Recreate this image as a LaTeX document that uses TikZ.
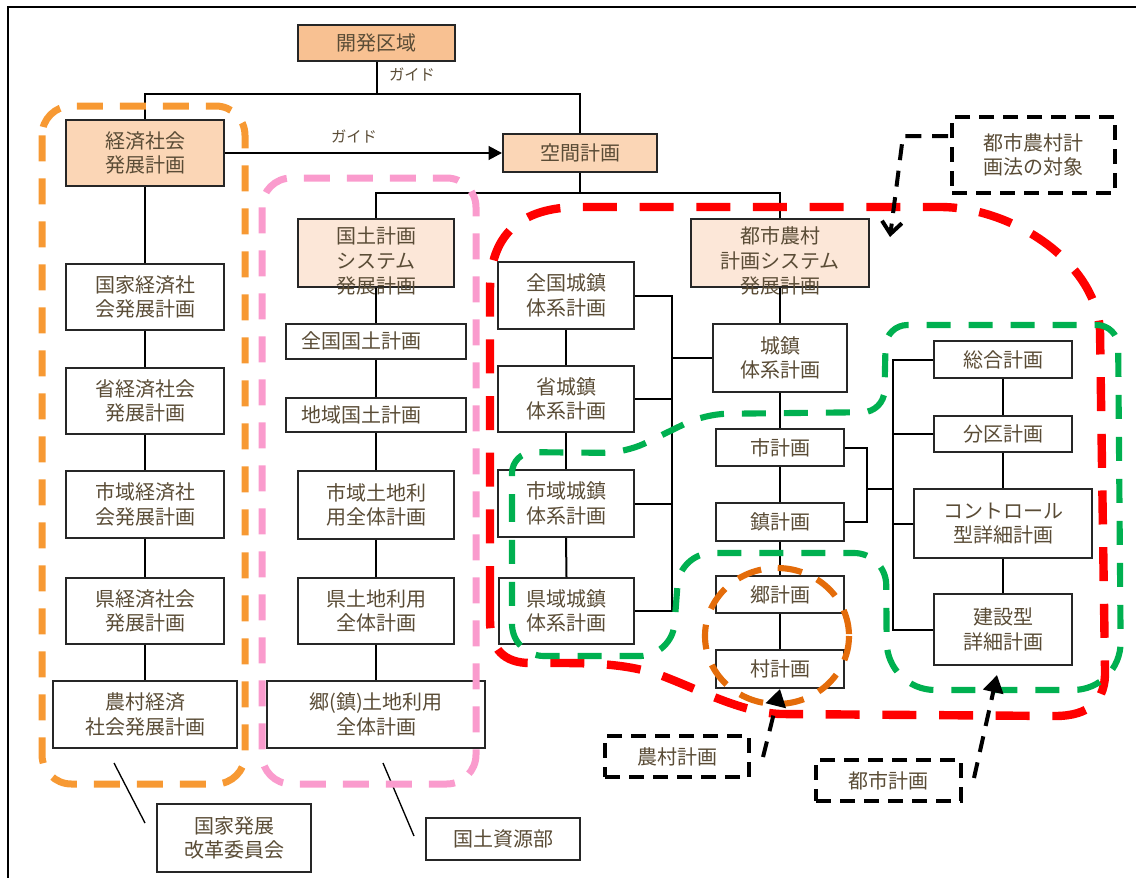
\documentclass[tikz,border=0pt]{standalone}
\usepackage{fontspec}
\setmainfont{Noto Sans CJK JP}
\usetikzlibrary{arrows.meta}
\definecolor{txt}{RGB}{90,76,54}
\definecolor{peachA}{RGB}{248,193,146}
\definecolor{peachB}{RGB}{251,214,182}
\definecolor{peachC}{RGB}{252,231,216}
\definecolor{orgreg}{RGB}{247,153,51}
\definecolor{pinkreg}{RGB}{250,155,205}
\definecolor{redreg}{RGB}{255,0,0}
\definecolor{grnreg}{RGB}{0,176,80}
\definecolor{dorg}{RGB}{228,108,10}
\tikzset{
  box/.style={draw=black!85, line width=1.4pt, fill=white, text=txt, align=center, inner sep=0pt,
    font=\fontsize{15pt}{18.5pt}\selectfont},
  lbl/.style={text=txt, align=center, inner sep=0pt, font=\fontsize{15pt}{18.5pt}\selectfont},
  small/.style={text=txt, inner sep=0pt, font=\fontsize{11.5pt}{14pt}\selectfont},
  conn/.style={line width=1.5pt, draw=black},
  anbox/.style={draw=black, line width=3pt, dash pattern=on 11pt off 7pt},
  anarrow/.style={draw=black, line width=3pt, dash pattern=on 12pt off 8pt},
  regO/.style={draw=orgreg, line width=5.25pt, dash pattern=on 19.5pt off 12.75pt, rounded corners=22pt},
  regP/.style={draw=pinkreg, line width=5.25pt, dash pattern=on 19.5pt off 12.75pt, rounded corners=22pt},
  regR/.style={draw=redreg, line width=6.3pt, dash pattern=on 25.5pt off 17pt},
  regG/.style={draw=grnreg, line width=4.6pt, dash pattern=on 18pt off 13.5pt},
  regD/.style={draw=dorg, line width=4.6pt, dash pattern=on 18.5pt off 12.5pt},
}
% \bx[style]{name}{x1}{y1}{x2}{y2}{text}
\newcommand\bx[7][]{\node[box,#1,minimum width={(#5-#3)*0.75pt},minimum height={(#6-#4)*0.75pt}] (#2) at ({(#3+#5)/2},{(#4+#6)/2}) {#7};}
\begin{document}
\begin{tikzpicture}[x=0.75pt,y=-0.75pt]
\useasboundingbox (0,0) rectangle (1136,878);
\coordinate (fr1) at (8,878);
\coordinate (fr2) at (8,7);
\coordinate (fr3) at (1136,7);
\draw[line width=1.5pt] (fr1) -- (fr2) -- (fr3);

% boxes
\bx[fill=peachA]{kaihatsu}{298}{25}{455}{61}{開発区域}
\bx[fill=peachB]{keizai}{66}{120}{224}{186}{経済社会\\発展計画}
\bx[fill=peachB]{kukan}{503}{134}{657}{172}{空間計画}
\bx{k1}{66}{264}{224}{330}{国家経済社\\会発展計画}
\bx{k2}{66}{368}{224}{434}{省経済社会\\発展計画}
\bx{k3}{66}{471}{224}{538}{市域経済社\\会発展計画}
\bx{k4}{66}{578}{224}{644}{県経済社会\\発展計画}
\bx{k5}{53}{681}{237}{748}{農村経済\\社会発展計画}

\bx[fill=peachC]{kokudo}{298}{219}{454}{287}{}
\bx{p1}{286}{324}{466}{359}{}
\bx{p2}{286}{398}{466}{432}{}
\bx{p3}{298}{471}{454}{539}{市域土地利\\用全体計画}
\bx{p4}{298}{578}{454}{644}{県土地利用\\全体計画}
\bx{p5}{267}{681}{485}{748}{郷(鎮)土地利用\\全体計画}

\bx[fill=peachC]{toshi}{691}{219}{869}{287}{}
\bx{c1}{498}{262}{634}{329}{全国城鎮\\体系計画}
\bx{c2}{498}{366}{634}{432}{省城鎮\\体系計画}
\bx{c3}{498}{470}{634}{537}{市域城鎮\\体系計画}
\bx{c4}{499}{578}{634}{644}{県域城鎮\\体系計画}

\bx{jo}{713}{324}{847}{392}{城鎮\\体系計画}
\bx{shi}{716}{429}{844}{466}{市計画}
\bx{chin}{716}{503}{844}{541}{鎮計画}
\bx{go}{716}{576}{844}{613}{郷計画}
\bx{son}{716}{650}{844}{688}{村計画}

\bx{sogo}{934}{341}{1072}{378}{総合計画}
\bx{bunku}{934}{416}{1072}{452}{分区計画}
\bx{ctrl}{914}{489}{1092}{558}{コントロール\\型詳細計画}
\bx{kensetsu}{934}{594}{1072}{665}{建設型\\詳細計画}

\bx{iinkai}{157}{804}{311}{872}{国家発展\\改革委員会}
\bx{shigen}{426}{818}{580}{860}{国土資源部}

% connectors top
\coordinate (t1) at (145,94);
\coordinate (t2) at (580,94);
\draw[conn] (kaihatsu.south) -- (kaihatsu.south |- t1);
\draw[conn] (keizai.north) -- (t1) -- (t2) -- (kukan.north);
\node[small] (g1) at (412,75) {ガイド};
\draw[conn, line width=2pt, -{Triangle[length=10pt,width=10pt]}] (keizai.east) -- (kukan.west);
\node[small] (g2) at (354,137) {ガイド};
\coordinate (t3) at (376,193);
\coordinate (t4) at (780,193);
\draw[conn] (kukan.south) -- (kukan.south |- t3);
\draw[conn] (kokudo.north) -- (t3) -- (t4) -- (toshi.north);

% columns
\draw[conn] (keizai.south) -- (k1.north);
\draw[conn] (k1.south) -- (k2.north);
\draw[conn] (k2.south) -- (k3.north);
\draw[conn] (k3.south) -- (k4.north);
\draw[conn] (k4.south) -- (k5.north);
\draw[conn] (kokudo.south) -- (p1.north);
\draw[conn] (p1.south) -- (p2.north);
\draw[conn] (p2.south) -- (p3.north);
\draw[conn] (p3.south) -- (p4.north);
\draw[conn] (p4.south) -- (p5.north);
\draw[conn] (c1.south) -- (c2.north);
\draw[conn] (c2.south) -- (c3.north);
\draw[conn] (c3.south) -- (c4.north);
\coordinate (b1) at (672,0);
\draw[conn] (c1.east) -- (c1.east -| b1) -- (c4.east -| b1) -- (c4.east);
\draw[conn] (c2.east) -- (c2.east -| b1);
\draw[conn] (c3.east) -- (c3.east -| b1);
\draw[conn] (jo.west) -- (jo.west -| b1);
\draw[conn] (toshi.south) -- (jo.north);
\draw[conn] (jo.south) -- (shi.north);
\draw[conn] (shi.south) -- (chin.north);
\draw[conn] (chin.south) -- (go.north);
\draw[conn] (go.south) -- (son.north);
\coordinate (b2) at (867,0);
\coordinate (b3) at (893,0);
\coordinate (m1) at (867,489);
\draw[conn] (shi.east) -- (shi.east -| b2) -- (chin.east -| b2) -- (chin.east);
\draw[conn] (m1) -- (m1 -| b3);
\draw[conn] (sogo.west) -- (sogo.west -| b3) -- (kensetsu.west -| b3) -- (kensetsu.west);
\draw[conn] (bunku.west) -- (bunku.west -| b3);
\draw[conn] (ctrl.west) -- (ctrl.west -| b3);
\draw[conn] (sogo.south) -- (bunku.north);
\draw[conn] (bunku.south) -- (ctrl.north);
\draw[conn] (ctrl.south) -- (kensetsu.north);

% pointer lines
\coordinate (q1) at (114,763);
\coordinate (q2) at (145,823);
\coordinate (q3) at (383,763);
\coordinate (q4) at (414,836);
\draw[line width=1pt] (q1) -- (q2);
\draw[line width=1pt] (q3) -- (q4);

% texts of boxes
\node[lbl] (kokudoT) at (376,261) {国土計画\\システム\\発展計画};
\node[lbl] (toshiT) at (780,261) {都市農村\\計画システム\\発展計画};
\node[lbl] (p1T) at (361,341) {全国国土計画};
\node[lbl] (p2T) at (361,415) {地域国土計画};

% regions
\draw[regO] (42,106) rectangle (245,784);
\draw[regP] (262,178) rectangle (476,784);
\draw[regR] (490,600) -- (490,290) .. controls (490,235) and (520,207) .. (580,207)
  -- (940,207) .. controls (1010,207) and (1095,260) .. (1100,330)
  -- (1105,670) .. controls (1106,700) and (1090,716) .. (1055,716)
  -- (780,714) .. controls (740,712) and (700,690) .. (660,675)
  .. controls (630,665) and (600,663) .. (560,663)
  -- (530,663) .. controls (505,663) and (490,650) .. (490,620) -- cycle;
\draw[regG] (512,550) [rounded corners=16pt] -- (512,452) -- (625,453) -- (705,414) -- (884,412)
  -- (886,325) -- (1118,325) [rounded corners=36pt] -- (1121,690) -- (887,690) [rounded corners=24pt]
  -- (886,553) -- (680,553) -- (672,656) -- (512,656) -- cycle;
\draw[regD] (777,636) ellipse [x radius=72, y radius=68];

% annotations
\bx[anbox]{ann1}{952}{117}{1115}{193}{都市農村計\\画法の対象}
\bx[anbox]{ann2}{605}{736}{749}{777}{農村計画}
\bx[anbox]{ann3}{816}{760}{961}{801}{都市計画}
\coordinate (a1) at (948,136);
\coordinate (a2) at (903,136);
\coordinate (a3) at (890,237);
\draw[anarrow, -{Straight Barb[length=9pt,width=15pt]}] (a1) -- (a2) -- (a3);
\coordinate (a4) at (763,757);
\draw[anarrow, -{Triangle[length=13pt,width=15pt]}] (a4) -- (son.south);
\coordinate (a5) at (974,778);
\coordinate (a6) at (997,675);
\draw[anarrow, -{Triangle[length=13pt,width=15pt]}] (a5) -- (a6);
\end{tikzpicture}
\end{document}
